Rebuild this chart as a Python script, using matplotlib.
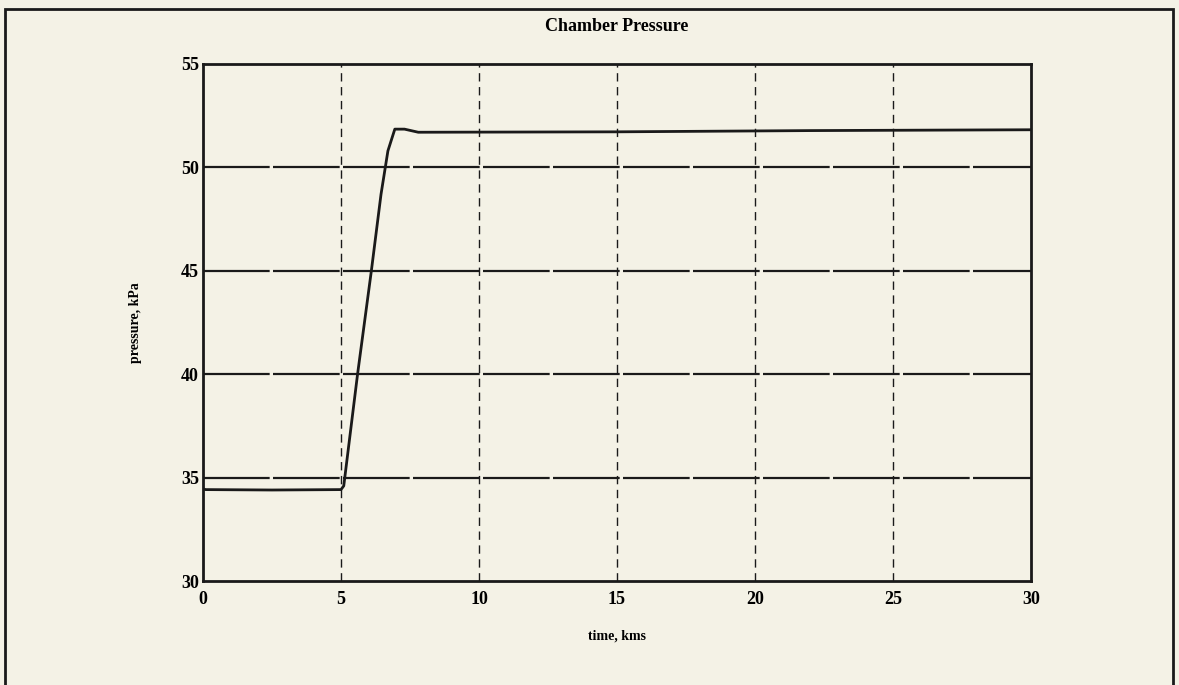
import matplotlib
matplotlib.use('Agg')
from matplotlib import pyplot as plt
from matplotlib.patches import Rectangle
import numpy as np

# time (kms?) and chamber pressure (kPa)
time_vals = [0, 0.1, 2.5, 5.0, 5.1, 5.6, 6.1, 6.45, 6.7, 6.95, 7.3, 7.8, 15, 22, 30]
pressure_vals = [34.45, 34.42, 34.4, 34.42, 34.6, 40.0, 45.0, 48.7, 50.8, 51.85, 51.85, 51.7, 51.72, 51.78, 51.82]

x_ticks = [0, 5, 10, 15, 20, 25, 30]
y_ticks = [30, 35, 40, 45, 50, 55]

bg = '#f4f2e6'
ink = '#1a1a1a'
plt.rcParams['font.family'] = ['Liberation Serif', 'DejaVu Serif']

fig = plt.figure(figsize=(11.79, 6.85), dpi=100, facecolor=bg)
ax = fig.add_axes([203/1179, 1 - 581/685, (1031 - 203)/1179, (581 - 64)/685])
ax.set_facecolor(bg)

# outer frame of the scanned page
fig.patches.append(Rectangle((5/1179, -0.05), (1173 - 5)/1179, 1 - 9/685 + 0.05,
                             transform=fig.transFigure, fill=False, edgecolor=ink, lw=2))

# grid: dashed verticals, heavy near-solid horizontals
for xv in x_ticks[1:-1]:
    ax.axvline(xv, color=ink, lw=1.0, ls=(0, (6, 4)), zorder=1)
for yv in y_ticks[1:-1]:
    ax.axhline(yv, color=ink, lw=1.6, ls=(0, (30, 1.5)), zorder=1)

ax.plot(time_vals, pressure_vals, color=ink, lw=2.0, zorder=3)

ax.set_xlim(0, 30)
ax.set_ylim(30, 55)
ax.set_xticks(x_ticks)
ax.set_yticks(y_ticks)
ax.tick_params(axis='x', length=0, pad=7, labelsize=13)
ax.tick_params(axis='y', length=0, pad=3, labelsize=13)
for lab in ax.get_xticklabels() + ax.get_yticklabels():
    lab.set_fontweight('bold')
for sp in ax.spines.values():
    sp.set_linewidth(2.0)
    sp.set_color(ink)

ax.set_title('Chamber Pressure', fontsize=13, fontweight='bold', pad=24)
ax.set_xlabel('time, kms', fontsize=10, fontweight='bold', labelpad=16)
ax.set_ylabel('pressure, kPa', fontsize=10, fontweight='bold', labelpad=28)

fig.savefig('out.png', dpi=100, facecolor=bg)
